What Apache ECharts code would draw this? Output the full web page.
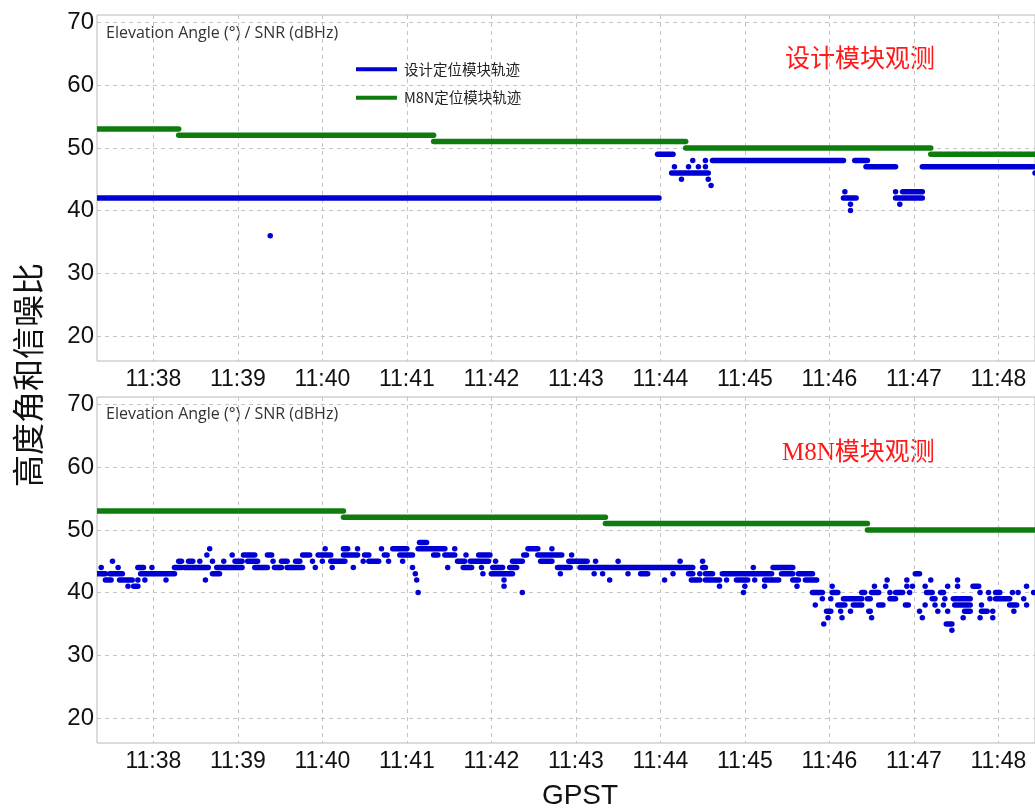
<!DOCTYPE html>
<html>
<head>
<meta charset="utf-8">
<script src="https://cdn.jsdelivr.net/npm/echarts@6/dist/echarts.min.js"></script>
<style>
  html, body { margin: 0; padding: 0; background: #fff; }
  #chart { width: 1035px; height: 810px; }
</style>
</head>
<body>
<div id="chart"></div>
<script>
// time values are seconds after 11:37:00 GPST
var tickSeconds = [60, 120, 180, 240, 300, 360, 420, 480, 540, 600, 660];
var yTicks = [20, 30, 40, 50, 60, 70];

// runs: [start, end, value] (start == end means a single epoch)
var designGreen = [[20, 78, 53], [78, 259, 52], [259, 438, 51], [438, 612, 50], [612, 690, 49]];
var designBlue = [
  [20, 419, 42], [143, 143, 36],
  [418, 429, 49],
  [457, 550, 48], [558, 567, 48], [443, 443, 48], [452, 452, 48],
  [566, 587, 47], [606, 685, 47], [430, 430, 47], [440, 440, 47], [447, 447, 47], [452, 452, 47],
  [428, 454, 46], [686, 690, 46],
  [435, 435, 45], [454, 454, 45],
  [456, 456, 44],
  [551, 551, 43], [587, 587, 43], [592, 606, 43],
  [550, 559, 42], [587, 606, 42],
  [555, 555, 41], [590, 590, 41],
  [555, 555, 40]
];

var m8nGreen = [[20, 195, 53], [195, 381, 52], [381, 567, 51], [567, 690, 50]];
var m8nBlue = [
  // 48 / 47
  [249, 254, 48],
  [100, 100, 47], [182, 182, 47], [195, 198, 47], [205, 205, 47], [222, 222, 47], [230, 240, 47],
  [248, 267, 47], [274, 274, 47], [326, 333, 47], [343, 343, 47],
  // 46
  [98, 98, 46], [116, 116, 46], [124, 132, 46], [141, 144, 46], [166, 171, 46], [177, 186, 46],
  [195, 205, 46], [210, 213, 46], [224, 226, 46], [235, 244, 46], [259, 262, 46], [267, 274, 46],
  [282, 282, 46], [291, 299, 46], [323, 325, 46], [333, 350, 46], [357, 357, 46],
  // 45
  [31, 31, 45], [78, 80, 45], [85, 88, 45], [93, 93, 45], [102, 102, 45], [110, 110, 45],
  [118, 123, 45], [127, 134, 45], [145, 145, 45], [151, 155, 45], [161, 164, 45], [173, 173, 45],
  [180, 180, 45], [186, 196, 45], [209, 209, 45], [213, 220, 45], [227, 227, 45], [237, 237, 45],
  [276, 281, 45], [285, 298, 45], [303, 303, 45], [315, 322, 45], [335, 343, 45], [355, 368, 45],
  [374, 374, 45], [390, 390, 45], [434, 434, 45], [450, 450, 45],
  // 44
  [23, 23, 44], [35, 35, 44], [49, 53, 44], [59, 59, 44], [75, 80, 44], [82, 99, 44], [105, 123, 44],
  [132, 141, 44], [146, 151, 44], [155, 166, 44], [175, 175, 44], [187, 187, 44], [202, 202, 44],
  [244, 244, 44], [269, 269, 44], [280, 286, 44], [293, 293, 44], [301, 308, 44], [313, 318, 44],
  [347, 356, 44], [363, 443, 44], [450, 452, 44], [486, 486, 44], [500, 514, 44],
  // 43
  [20, 24, 43], [25, 26, 43], [29, 38, 43], [51, 75, 43], [102, 107, 43], [246, 246, 43],
  [294, 294, 43], [300, 315, 43], [349, 349, 43], [373, 373, 43], [379, 379, 43], [397, 397, 43],
  [406, 411, 43], [429, 429, 43], [440, 443, 43], [448, 448, 43], [452, 457, 43], [464, 499, 43],
  [506, 514, 43], [518, 528, 43], [601, 604, 43],
  // 42
  [26, 30, 42], [36, 45, 42], [49, 49, 42], [54, 54, 42], [69, 69, 42], [97, 97, 42], [247, 247, 42],
  [309, 309, 42], [384, 384, 42], [423, 423, 42], [442, 448, 42], [452, 462, 42], [467, 467, 42],
  [474, 482, 42], [487, 487, 42], [494, 504, 42], [514, 518, 42], [523, 531, 42], [581, 581, 42],
  [595, 595, 42], [612, 612, 42], [631, 631, 42],
  // 41
  [42, 42, 41], [46, 49, 41], [309, 309, 41], [462, 462, 41], [480, 480, 41], [494, 494, 41],
  [517, 517, 41], [542, 542, 41], [572, 572, 41], [580, 580, 41], [595, 595, 41], [599, 599, 41],
  [608, 608, 41], [624, 624, 41], [631, 631, 41], [642, 646, 41], [680, 680, 41],
  // 40
  [248, 248, 40], [322, 322, 40], [479, 479, 40], [528, 535, 40], [542, 546, 40], [563, 565, 40],
  [570, 575, 40], [583, 583, 40], [587, 592, 40], [597, 597, 40], [609, 613, 40], [619, 621, 40],
  [647, 647, 40], [653, 653, 40], [658, 661, 40], [670, 670, 40], [674, 674, 40], [685, 685, 40],
  // 39
  [535, 535, 39], [541, 541, 39], [550, 563, 39], [567, 569, 39], [583, 587, 39], [613, 615, 39],
  [622, 622, 39], [628, 640, 39], [654, 654, 39], [658, 668, 39], [678, 678, 39],
  // 38
  [530, 530, 38], [546, 551, 38], [557, 563, 38], [575, 578, 38], [594, 596, 38], [608, 608, 38],
  [615, 615, 38], [621, 621, 38], [629, 640, 38], [648, 648, 38], [668, 673, 38], [680, 680, 38],
  // 37
  [538, 541, 37], [548, 548, 37], [555, 555, 37], [568, 569, 37], [604, 604, 37], [617, 617, 37],
  [624, 624, 37], [636, 640, 37], [648, 652, 37], [656, 656, 37], [671, 671, 37],
  // 36 and below
  [539, 539, 36], [549, 549, 36], [570, 570, 36], [606, 606, 36], [635, 635, 36], [647, 647, 36],
  [656, 656, 36],
  [536, 536, 35], [623, 627, 35],
  [627, 627, 34]
];

var BLUE = '#0000d4';
var GREEN = '#0e7d0e';
var NUM_FONT = "'Liberation Sans', Arial, sans-serif";
var CJK_FONT = "'Noto Sans CJK SC', sans-serif";
var SMALL_FONT = "'Open Sans', sans-serif";
var RED_FONT = "'Liberation Serif', 'Noto Sans CJK SC', serif";

function runItem(thick) {
  return function (params, api) {
    var a = api.coord([api.value(0), api.value(2)]);
    var b = api.coord([api.value(1), api.value(2)]);
    var r = thick / 2;
    return {
      type: 'rect',
      shape: { x: a[0] - r, y: a[1] - r, width: b[0] - a[0] + thick, height: thick, r: r },
      style: { fill: api.visual('color') }
    };
  };
}

function xAxisFor(i) {
  return {
    type: 'value', gridIndex: i, min: 20, max: 686,
    axisLine: { show: false }, axisTick: { show: false, customValues: tickSeconds },
    axisLabel: {
      customValues: tickSeconds, margin: 7, color: '#111', fontSize: 23, fontFamily: NUM_FONT,
      formatter: function (v) { return '11:' + (37 + Math.round(v / 60)); }
    },
    splitLine: { show: true, lineStyle: { type: [4, 4], color: '#c4c4c4', width: 1 } }
  };
}
function yAxisFor(i) {
  return {
    type: 'value', gridIndex: i, min: 16, max: 71.2,
    axisLine: { show: false }, axisTick: { show: false, customValues: yTicks },
    axisLabel: { customValues: yTicks, margin: 3, color: '#111', fontSize: 24, fontFamily: NUM_FONT },
    splitLine: { show: true, lineStyle: { type: [4, 4], color: '#c4c4c4', width: 1 } }
  };
}
function runSeries(name, data, idx, color, thick) {
  return {
    name: name, type: 'custom', xAxisIndex: idx, yAxisIndex: idx,
    renderItem: runItem(thick), encode: { x: [0, 1], y: 2 },
    itemStyle: { color: color }, data: data, clip: true, silent: true
  };
}

var chart = echarts.init(document.getElementById('chart'));
chart.setOption({
  animation: false,
  backgroundColor: '#fff',
  grid: [
    { left: 97, top: 15, right: 0, height: 346, show: true, borderColor: '#b8b8b8', borderWidth: 1 },
    { left: 97, top: 397, right: 0, height: 346, show: true, borderColor: '#b8b8b8', borderWidth: 1 }
  ],
  xAxis: [xAxisFor(0), xAxisFor(1)],
  yAxis: [yAxisFor(0), yAxisFor(1)],
  legend: {
    orient: 'vertical', left: 356, top: 62, padding: 0, itemWidth: 41, itemHeight: 4, itemGap: 14,
    textStyle: { fontSize: 14.5, color: '#222', fontFamily: CJK_FONT, padding: [0, 0, 0, 2] },
    data: [
      { name: '设计定位模块轨迹', icon: 'rect', itemStyle: { color: BLUE } },
      { name: 'M8N定位模块轨迹', icon: 'rect', itemStyle: { color: GREEN } }
    ]
  },
  graphic: [
    { type: 'text', left: 106, top: 25, style: { text: 'Elevation Angle (°) / SNR (dBHz)', fontSize: 16, fill: '#333', fontFamily: SMALL_FONT } },
    { type: 'text', left: 106, top: 406, style: { text: 'Elevation Angle (°) / SNR (dBHz)', fontSize: 16, fill: '#333', fontFamily: SMALL_FONT } },
    { type: 'text', left: 785, top: 48, style: { text: '设计模块观测', fontSize: 25, fill: '#ff1a1a', fontFamily: RED_FONT } },
    { type: 'text', left: 782, top: 441, style: { text: 'M8N模块观测', fontSize: 25, fill: '#ff1a1a', fontFamily: RED_FONT } },
    { type: 'text', x: 28, y: 375, rotation: Math.PI / 2, style: { text: '高度角和信噪比', fontSize: 32, fill: '#111', fontFamily: CJK_FONT, align: 'center', verticalAlign: 'middle' } },
    { type: 'text', x: 580, y: 796, style: { text: 'GPST', fontSize: 28, fill: '#111', fontFamily: NUM_FONT, align: 'center', verticalAlign: 'middle' } }
  ],
  series: [
    runSeries('M8N定位模块轨迹', designGreen, 0, GREEN, 5.5),
    runSeries('设计定位模块轨迹', designBlue, 0, BLUE, 5.5),
    runSeries('M8N定位模块轨迹', m8nGreen, 1, GREEN, 5.5),
    runSeries('设计定位模块轨迹', m8nBlue, 1, BLUE, 5.5)
  ]
});
</script>
</body>
</html>
